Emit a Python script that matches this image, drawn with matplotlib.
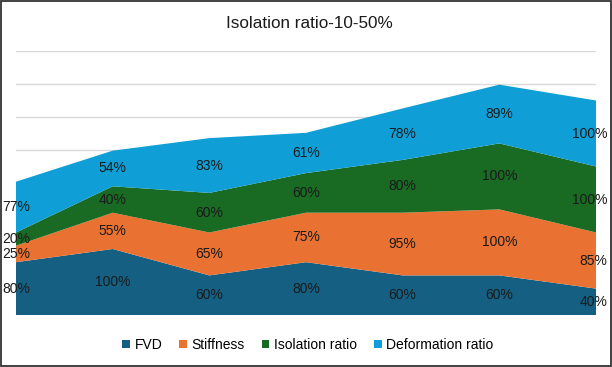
import matplotlib
matplotlib.use("Agg")
import matplotlib.pyplot as plt
from matplotlib.patches import Patch, Rectangle

# data (percent values per category)
categories = [1, 2, 3, 4, 5, 6, 7]
fvd = [80, 100, 60, 80, 60, 60, 40]
stiffness = [25, 55, 65, 75, 95, 100, 85]
isolation = [20, 40, 60, 60, 80, 100, 100]
deformation = [77, 54, 83, 61, 78, 89, 100]
series_names = ["FVD", "Stiffness", "Isolation ratio", "Deformation ratio"]
colors = ["#156082", "#E97132", "#196B24", "#0F9ED5"]

font = ["Liberation Sans", "DejaVu Sans"]

fig = plt.figure(figsize=(6.12, 3.67), dpi=100)
ax = fig.add_axes([16 / 612, 52 / 367, 580 / 612, 264 / 367])

x = list(range(len(categories)))
series = [fvd, stiffness, isolation, deformation]

ax.set_xlim(0, len(categories) - 1)
ax.set_ylim(0, 400)
ax.set_yticks(range(0, 401, 50))
ax.yaxis.grid(True, color="#D9D9D9", linewidth=1)
ax.set_axisbelow(True)
ax.tick_params(left=False, bottom=False, labelleft=False, labelbottom=False)
for s in ax.spines.values():
    s.set_visible(False)

ax.stackplot(x, *series, colors=colors, zorder=2)

# data labels in the middle of each band
base = [0] * len(x)
for vals in series:
    for i, v in enumerate(vals):
        mid = base[i] + v / 2
        if i == len(x) - 1:
            ax.annotate(f"{v}%", (i, mid), xytext=(8, 0), textcoords="offset points",
                        ha="right", va="center", fontsize=10, family=font,
                        color="#1a1a1a", zorder=3, annotation_clip=False)
        else:
            ax.text(i, mid, f"{v}%", ha="center", va="center", fontsize=10,
                    family=font, color="#1a1a1a", zorder=3)
    base = [b + v for b, v in zip(base, vals)]

fig.text(0.505, 1 - 24 / 367, "Isolation ratio-10-50%", ha="center", va="center",
         fontsize=12.3, family=font, color="#1a1a1a")

handles = [Patch(facecolor=c, edgecolor="none") for c in colors]
fig.legend(handles, series_names, loc="center", bbox_to_anchor=(308 / 612, 1 - 345 / 367),
           ncol=4, frameon=False, handlelength=0.55, handleheight=0.55,
           handletextpad=0.35, columnspacing=1.2,
           prop={"family": font, "size": 10})

fig.patches.append(Rectangle((0.001, 0.002), 0.997, 0.995, transform=fig.transFigure,
                             fill=False, edgecolor="#333333", linewidth=1.3))

fig.savefig("out.png", dpi=100)
